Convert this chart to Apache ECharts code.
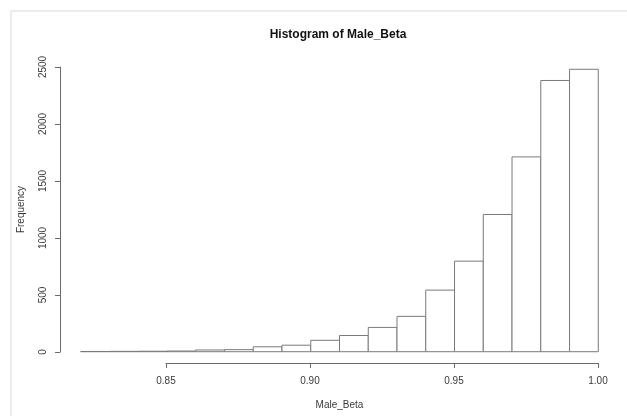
<!DOCTYPE html>
<html>
<head>
<meta charset="utf-8">
<title>Histogram of Male_Beta</title>
<script src="https://cdn.jsdelivr.net/npm/echarts@6/dist/echarts.min.js"></script>
<style>
  html, body { margin: 0; padding: 0; background: #fff; }
  #chart { width: 627px; height: 416px; }
</style>
</head>
<body>
<div id="chart"></div>
<script>
// histogram bins (left / right edges) and counts
var binStarts = [0.82, 0.83, 0.84, 0.85, 0.86, 0.87, 0.88, 0.89, 0.90,
                 0.91, 0.92, 0.93, 0.94, 0.95, 0.96, 0.97, 0.98, 0.99]
var binEnds   = [0.83, 0.84, 0.85, 0.86, 0.87, 0.88, 0.89, 0.90, 0.91,
                 0.92, 0.93, 0.94, 0.95, 0.96, 0.97, 0.98, 0.99, 1.00]
var counts    = [2, 3, 4, 6, 15, 18, 43, 57, 100,
                 142, 213, 310, 540, 794, 1203, 1708, 2378, 2476]

var xTicks = [0.85, 0.90, 0.95, 1.00]
var yTicks = [0, 500, 1000, 1500, 2000, 2500]

var fontFamily = 'Liberation Sans, Arial, sans-serif'
var lineColor = '#6a6a6a'
var textColor = '#3a3a3a'

// plot region like R: data range widened by 4% each side
var xMin = binStarts[0], xMax = binEnds[binEnds.length - 1]
var yMax = Math.max.apply(null, counts)
var xPad = (xMax - xMin) * 0.04, yPad = yMax * 0.04

var histData = binStarts.map(function (s, i) {
  return [s, binEnds[i], counts[i]]
})

var chart = echarts.init(document.getElementById('chart'), null, { renderer: 'canvas' })

chart.setOption({
  backgroundColor: '#fff',
  animation: false,
  textStyle: { fontFamily: fontFamily },
  graphic: [
    {
      type: 'rect',
      shape: { x: 11, y: 11, width: 700, height: 500 },
      style: { fill: 'none', stroke: '#e6e6e6', lineWidth: 1.5 },
      silent: true
    },
    {
      type: 'text',
      x: 338,
      y: 35,
      style: {
        text: 'Histogram of Male_Beta',
        fill: '#111',
        font: 'bold 12px ' + fontFamily,
        textAlign: 'center',
        textVerticalAlign: 'middle'
      }
    }
  ],
  grid: [
    // data region
    { left: 60, right: 8, top: 58, bottom: 53, outerBoundsMode: 'none' },
    // x axis drawn only over the ticked range
    { left: 166, right: 29, top: 58, bottom: 53, outerBoundsMode: 'none' },
    // y axis drawn only over the ticked range
    { left: 60, right: 8, top: 67, bottom: 64, outerBoundsMode: 'none' }
  ],
  xAxis: [
    {
      type: 'value', gridIndex: 0,
      min: xMin - xPad, max: xMax + xPad,
      name: 'Male_Beta', nameLocation: 'middle', nameGap: 37,
      nameTextStyle: { color: textColor, fontSize: 10, fontFamily: fontFamily },
      axisLine: { show: false }, axisTick: { show: false },
      axisLabel: { show: false }, splitLine: { show: false }
    },
    {
      type: 'value', gridIndex: 1,
      min: xTicks[0], max: xTicks[xTicks.length - 1], interval: 0.05,
      axisLine: { show: true, onZero: false, lineStyle: { color: lineColor, width: 1 } },
      axisTick: { show: true, length: 5, lineStyle: { color: lineColor } },
      axisLabel: {
        color: textColor, fontSize: 10, margin: 13,
        formatter: function (v) { return v.toFixed(2) }
      },
      splitLine: { show: false }
    },
    { type: 'value', gridIndex: 2, show: false, min: 0, max: 1 }
  ],
  yAxis: [
    { type: 'value', gridIndex: 0, show: false, min: -yPad, max: yMax + yPad },
    { type: 'value', gridIndex: 1, show: false, min: 0, max: 1 },
    {
      type: 'value', gridIndex: 2,
      min: yTicks[0], max: yTicks[yTicks.length - 1], interval: 500,
      name: 'Frequency', nameLocation: 'middle', nameRotate: 90, nameGap: 34,
      nameTextStyle: { color: textColor, fontSize: 10, fontFamily: fontFamily },
      axisLine: { show: true, onZero: false, lineStyle: { color: lineColor, width: 1 } },
      axisTick: { show: true, length: 5, lineStyle: { color: lineColor } },
      axisLabel: {
        color: textColor, fontSize: 10, rotate: 90, margin: 12,
        formatter: function (v) { return String(v) }
      },
      splitLine: { show: false }
    }
  ],
  series: [
    {
      type: 'custom',
      xAxisIndex: 0,
      yAxisIndex: 0,
      data: histData,
      encode: { x: [0, 1], y: 2 },
      renderItem: function (params, api) {
        var topLeft = api.coord([api.value(0), api.value(2)])
        var bottomRight = api.coord([api.value(1), 0])
        return {
          type: 'rect',
          shape: {
            x: topLeft[0],
            y: topLeft[1],
            width: bottomRight[0] - topLeft[0],
            height: bottomRight[1] - topLeft[1]
          },
          style: { fill: '#fff', stroke: '#7a7a7a', lineWidth: 1 }
        }
      }
    }
  ]
})
</script>
</body>
</html>
